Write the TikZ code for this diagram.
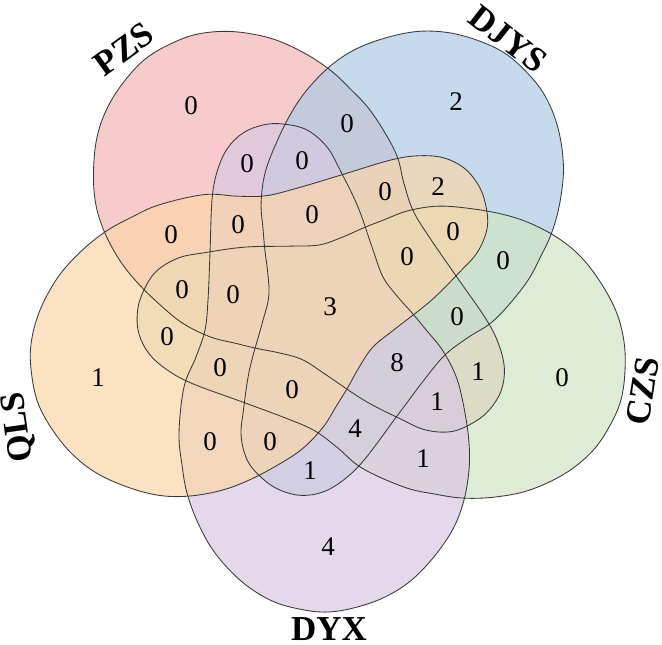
\documentclass[tikz,border=0pt]{standalone}
\usepackage{fontspec}
\setmainfont{Liberation Serif}
\definecolor{cPZS}{RGB}{244,181,181}
\definecolor{cDJYS}{RGB}{172,202,228}
\definecolor{cCZS}{RGB}{208,228,196}
\definecolor{cDYX}{RGB}{216,201,225}
\definecolor{cQLS}{RGB}{249,214,169}
\begin{document}
\begin{tikzpicture}[x=1pt,y=1pt,
  num/.style={font=\fontsize{27}{27}\selectfont, inner sep=0pt},
  lab/.style={font=\fontsize{35}{35}\selectfont\bfseries, inner sep=0pt},
  setfill/.style={fill=#1, fill opacity=0.7},
  outline/.style={draw=black!78, line width=0.85pt}]
\useasboundingbox (0,0) rectangle (662,645);
\def\vshape{plot[smooth cycle, tension=0.6] coordinates {(-22,175) (-46,181) (-66,180) (-86,172) (-102,156) (-112,133) (-117,105) (-119,52) (-121,5) (-124,-25) (-133,-52) (-145,-82) (-150,-128) (-147,-160) (-142,-188) (-131,-218) (-114,-248) (-88,-276) (-59,-295) (-30,-304) (0,-307) (32,-301) (60,-290) (85,-273) (108,-248) (125,-222) (135,-195) (140,-165) (140,-138) (136,-108) (128,-74) (114,-46) (98,-26) (84,-9) (68,9) (54,28) (44,55) (29,98) (11,135) (-2,158)}}
\begin{scope}[shift={(329,340)}]
  \fill[setfill=cPZS, rotate=217] \vshape;
  \fill[setfill=cDJYS, rotate=145.5] \vshape;
  \fill[setfill=cCZS, rotate=72] \vshape;
  \fill[setfill=cDYX] \vshape;
  \fill[setfill=cQLS, rotate=289] \vshape;
  \draw[outline, rotate=217] \vshape;
  \draw[outline, rotate=145.5] \vshape;
  \draw[outline, rotate=72] \vshape;
  \draw[outline] \vshape;
  \draw[outline, rotate=289] \vshape;
\end{scope}
% labels
\node[lab, rotate=36] (lPZS) at (124,596) {PZS};
\node[lab, rotate=-38] (lDJYS) at (508,606) {DJYS};
\node[lab, rotate=81] (lCZS) at (643,254) {CZS};
\node[lab] (lDYX) at (329,16) {DYX};
\node[lab, rotate=98] (lQLS) at (19,218) {QLS};
% counts
\node[num] (n1) at (191,539) {0};
\node[num] (n2) at (456,543) {2};
\node[num] (n3) at (562,267) {0};
\node[num] (n4) at (328,98) {4};
\node[num] (n5) at (98,267) {1};
\node[num] (n6) at (347,521) {0};
\node[num] (n7) at (247,481) {0};
\node[num] (n8) at (302,484) {0};
\node[num] (n9) at (385,453) {0};
\node[num] (n10) at (438,458) {2};
\node[num] (n11) at (171,410) {0};
\node[num] (n12) at (238,420) {0};
\node[num] (n13) at (312,430) {0};
\node[num] (n14) at (453,413) {0};
\node[num] (n15) at (407,388) {0};
\node[num] (n16) at (503,384) {0};
\node[num] (n17) at (182,355) {0};
\node[num] (n18) at (233,350) {0};
\node[num] (n19) at (330,338) {3};
\node[num] (n20) at (457,328) {0};
\node[num] (n21) at (167,308) {0};
\node[num] (n22) at (220,277) {0};
\node[num] (n23) at (397,282) {8};
\node[num] (n24) at (478,273) {1};
\node[num] (n25) at (292,255) {0};
\node[num] (n26) at (437,243) {1};
\node[num] (n27) at (210,203) {0};
\node[num] (n28) at (270,203) {0};
\node[num] (n29) at (355,216) {4};
\node[num] (n30) at (423,186) {1};
\node[num] (n31) at (310,174) {1};
\end{tikzpicture}
\end{document}
